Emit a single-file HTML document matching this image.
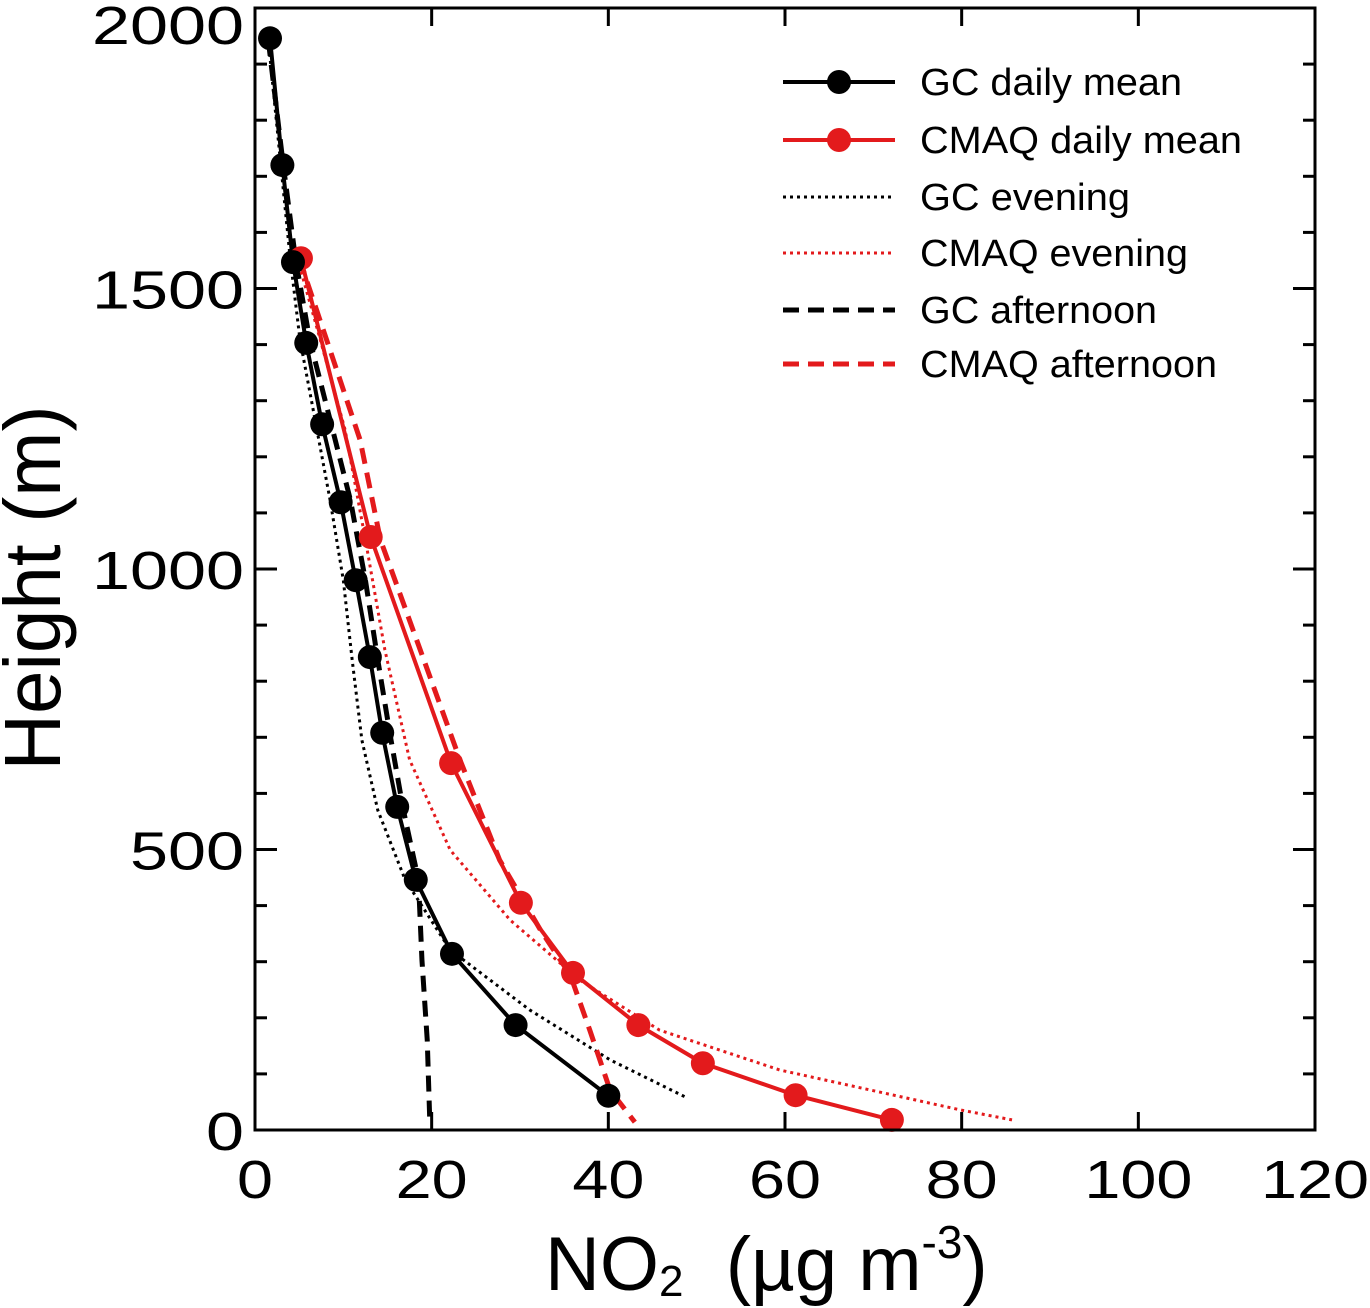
<!DOCTYPE html>
<html><head><meta charset="utf-8"><style>
html,body{margin:0;padding:0;background:#fff;}
svg{display:block;font-family:"Liberation Sans",sans-serif;}
</style></head><body>
<svg id="chart" width="1370" height="1308" viewBox="0 0 1370 1308">
<g id="marks"></g>
<rect x="255" y="8" width="1060" height="1122" fill="none" stroke="#000" stroke-width="3"/>
<g id="axes"></g>
<text x="545" y="1290" font-size="76">NO<tspan font-size="44" dy="6">2</tspan><tspan dy="-6" xml:space="preserve">  (µg m</tspan><tspan font-size="46" dy="-32">-3</tspan><tspan dy="32">)</tspan></text>
<text transform="translate(60,588) rotate(-90)" font-size="80" text-anchor="middle" textLength="365" lengthAdjust="spacingAndGlyphs">Height (m)</text>
<g id="legend"></g>
</svg>
<script>
const xTicks=[0,20,40,60,80,100,120];
const yTicks=[0,500,1000,1500,2000];
const gcMeanX=[1.7,3.1,4.3,5.8,7.6,9.7,11.4,13.0,14.4,16.1,18.2,22.3,29.5,40.0];
const gcMeanY=[1946,1720,1547,1403,1258,1119,980,843,708,576,446,314,187,61];
const cmMeanX=[5.2,13.1,22.2,30.1,36.0,43.4,50.7,61.2,72.1];
const cmMeanY=[1554,1057,654,405,280,187,119,62,18];
const gcEveX=[1.5,4.0,5.1,6.8,8.5,10.0,11.0,12.1,13.9,17.0,22.1,31.1,40.2,48.7];
const gcEveY=[1943,1551,1408,1266,1123,980,838,695,570,446,321,214,125,59];
const gcAftX=[1.5,3.2,4.6,6.2,8.5,10.8,12.5,13.9,15.3,16.8,18.5,18.9,19.5,19.8];
const gcAftY=[1943,1720,1551,1408,1266,1123,980,838,704,570,446,303,160,9];
const cmEveX=[4.8,7.4,10.2,12.5,14.7,17.5,22.1,28.9,36.8,45.8,59.4,79.8,85.7];
const cmEveY=[1554,1408,1248,1052,856,660,499,374,267,178,107,36,18];
const cmAftX=[5.0,8.5,11.9,14.2,18.7,23.2,27.7,32.3,35.7,37.9,40.2,43.0];
const cmAftY=[1554,1390,1230,1052,856,660,481,357,276,178,71,14];

const NS="http://www.w3.org/2000/svg";
const X0=255,X1=1315,Y0=1130,Y1=8;
function sx(v){return X0+(v/120)*(X1-X0);}
function sy(v){return Y0-(v/2000)*(Y0-Y1);}
function mk(t,a,p){const e=document.createElementNS(NS,t);for(const k in a)e.setAttribute(k,a[k]);p.appendChild(e);return e;}
const marks=document.getElementById('marks'),axes=document.getElementById('axes'),leg=document.getElementById('legend');

function line(xs,ys,color,dash,name){
  const d=xs.map((x,i)=>(i?'L':'M')+sx(x)+','+sy(ys[i])).join(' ');
  const p=mk('path',{d:d,fill:'none',stroke:color,'stroke-width':dash==='dot'?3:(dash==='dash'?5:4),'stroke-linejoin':'round'},marks);
  if(dash==='dot')p.setAttribute('stroke-dasharray','3,4');
  if(dash==='dash')p.setAttribute('stroke-dasharray','16,9');
  
  
}
line(gcEveX,gcEveY,'#000','dot','gc-evening-line');
line(gcAftX,gcAftY,'#000','dash','gc-afternoon-line');
line(cmEveX,cmEveY,'#e31a1c','dot','cmaq-evening-line');
line(cmAftX,cmAftY,'#e31a1c','dash','cmaq-afternoon-line');
line(cmMeanX,cmMeanY,'#e31a1c','solid','cmaq-daily-mean-line');
line(gcMeanX,gcMeanY,'#000','solid','gc-daily-mean-line');
cmMeanX.forEach((x,i)=>{const c=mk('circle',{cx:sx(x),cy:sy(cmMeanY[i]),r:12,fill:'#e31a1c'},marks);

});
gcMeanX.forEach((x,i)=>{const c=mk('circle',{cx:sx(x),cy:sy(gcMeanY[i]),r:12,fill:'#000'},marks);

});

xTicks.forEach(v=>{const x=sx(v);
  mk('line',{x1:x,x2:x,y1:Y0,y2:Y0-18,stroke:'#000','stroke-width':3},axes);
  mk('line',{x1:x,x2:x,y1:Y1,y2:Y1+18,stroke:'#000','stroke-width':3},axes);
  const s=String(v);
  const t=mk('text',{x:x,y:1198,'font-size':54,'text-anchor':'middle',textLength:s.length*36,lengthAdjust:'spacingAndGlyphs'},axes);t.textContent=s;
  
  });
for(let v=0;v<=2000;v+=100){const y=sy(v),L=(v%500===0)?22:12;
  mk('line',{x1:X0,x2:X0+L,y1:y,y2:y,stroke:'#000','stroke-width':3},axes);
  mk('line',{x1:X1,x2:X1-L,y1:y,y2:y,stroke:'#000','stroke-width':3},axes);}
yTicks.forEach(v=>{const s=String(v);
  const t=mk('text',{x:244,y:Math.max(sy(v)+20,44),'font-size':54,'text-anchor':'end',textLength:s.length*38,lengthAdjust:'spacingAndGlyphs'},axes);t.textContent=s;
  
  });

const legItems=[['GC daily mean','#000','solid',true,262],['CMAQ daily mean','#e31a1c','solid',true,322],['GC evening','#000','dot',false,210],['CMAQ evening','#e31a1c','dot',false,268],['GC afternoon','#000','dash',false,237],['CMAQ afternoon','#e31a1c','dash',false,297]];
const legY=[82,140,197,253,310,364];
legItems.forEach((it,i)=>{const y=legY[i];
  const g=mk('g',{},leg);
  
  
  const l=mk('line',{x1:783,x2:895,y1:y,y2:y,stroke:it[1],'stroke-width':it[2]==='dash'?5:(it[2]==='dot'?3:4)},g);
  if(it[2]==='dot')l.setAttribute('stroke-dasharray','3,4');
  if(it[2]==='dash')l.setAttribute('stroke-dasharray','16,9');
  if(it[3])mk('circle',{cx:839,cy:y,r:12,fill:it[1]},g);
  const t=mk('text',{x:920,y:y+13,'font-size':38,textLength:it[4],lengthAdjust:'spacingAndGlyphs'},g);t.textContent=it[0];});
</script>
</body></html>
